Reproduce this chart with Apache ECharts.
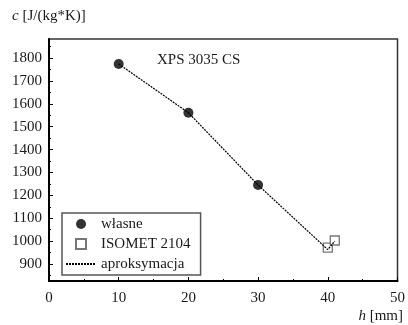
<!DOCTYPE html>
<html><head><meta charset="utf-8">
<script src="https://cdn.jsdelivr.net/npm/echarts@6/dist/echarts.min.js"></script>
<style>html,body{margin:0;padding:0;background:#fff}#c{width:408px;height:325px}</style>
</head><body><div id="c"></div>
<script>
// Data
const ownX = [10, 20, 30];
const ownY = [1774, 1561, 1245];
const isometX = [40, 41];
const isometY = [972, 1003];
const approxX = [10, 20, 30, 40, 41];
const approxY = [1774, 1561, 1245, 963, 1000];
const xTicks = [0, 10, 20, 30, 40, 50];
const yTicks = [900, 1000, 1100, 1200, 1300, 1400, 1500, 1600, 1700, 1800];
const yMinorTicks = [850, 950, 1050, 1150, 1250, 1350, 1450, 1550, 1650, 1750, 1850];
const seriesNames = ['własne', 'ISOMET 2104', 'aproksymacja'];

const FONT = '"Liberation Serif", "DejaVu Serif", serif';
const TXT = '#1a1a1a';
const zip = (a, b) => a.map((v, i) => [v, b[i]]);

const chart = echarts.init(document.getElementById('c'), null, {renderer: 'canvas'});
chart.setOption({
  animation: false,
  backgroundColor: '#fff',
  grid: {left: 49, right: 8, top: 39, bottom: 44, show: true, borderColor: '#333', borderWidth: 1.5, backgroundColor: 'transparent'},
  xAxis: {
    type: 'value', min: 0, max: 50, interval: 10,
    axisLine: {show: true, onZero: false, lineStyle: {color: '#000', width: 2}},
    axisTick: {show: true, inside: true, length: 4, lineStyle: {color: '#000', width: 1}},
    minorTick: {show: true, splitNumber: 2, length: 2, lineStyle: {color: '#000', width: 1}},
    splitLine: {show: false},
    axisLabel: {margin: 10, fontFamily: FONT, fontSize: 15, color: TXT,
      customValues: xTicks, formatter: v => String(v)}
  },
  yAxis: [{
    type: 'value', min: 826, max: 1883,
    axisLine: {show: true, onZero: false, lineStyle: {color: '#000', width: 2}},
    axisTick: {show: true, inside: true, length: 4, lineStyle: {color: '#000', width: 1}, customValues: yTicks},
    splitLine: {show: false},
    axisLabel: {margin: 7, fontFamily: FONT, fontSize: 15, color: TXT, customValues: yTicks, formatter: v => String(v)}
  }, {
    type: 'value', min: 826, max: 1883, position: 'left',
    axisLine: {show: false},
    axisTick: {show: true, inside: true, length: 2, lineStyle: {color: '#000', width: 1}, customValues: yMinorTicks},
    splitLine: {show: false},
    axisLabel: {show: false}
  }],
  legend: {
    orient: 'vertical', left: 62, top: 213,
    data: [
      {name: seriesNames[0], icon: 'circle'},
      {name: seriesNames[1], icon: 'path://M0,0L10,0L10,10L0,10Z'},
      {name: seriesNames[2], itemStyle: {opacity: 0}}
    ],
    symbolKeepAspect: true,
    borderColor: '#555', borderWidth: 1.5, borderRadius: 0,
    padding: [2, 10, 2, 3], itemGap: 2, itemWidth: 30, itemHeight: 10,
    textStyle: {fontFamily: FONT, fontSize: 15, color: TXT, lineHeight: 18},
    backgroundColor: '#fff'
  },
  series: [
    {name: seriesNames[1], type: 'scatter', data: zip(isometX, isometY), symbol: 'rect', symbolSize: 9,
     itemStyle: {color: '#fff', borderColor: '#555', borderWidth: 1.3}},
    {name: seriesNames[2], type: 'line', data: zip(approxX, approxY), showSymbol: false, symbol: 'none',
     lineStyle: {color: '#000', width: 1.2, type: [2, 1]}, itemStyle: {color: '#000'}},
    {name: seriesNames[0], type: 'scatter', data: zip(ownX, ownY), symbol: 'circle', symbolSize: 10,
     itemStyle: {color: '#000'}}
  ],
  graphic: [
    {type: 'text', left: 157, top: 53, style: {text: 'XPS 3035 CS', font: '15px ' + FONT, fill: TXT}},
    {type: 'text', left: 12, top: 9, style: {
      text: '{i|c} [J/(kg*K)]', font: '15px ' + FONT, fill: TXT,
      rich: {i: {fontStyle: 'italic', fontFamily: FONT, fontSize: 15, fill: TXT}}}},
    {type: 'text', right: 5, top: 309, style: {
      text: '{i|h} [mm]', font: '15px ' + FONT, fill: TXT,
      rich: {i: {fontStyle: 'italic', fontFamily: FONT, fontSize: 15, fill: TXT}}}}
  ]
});
</script></body></html>
